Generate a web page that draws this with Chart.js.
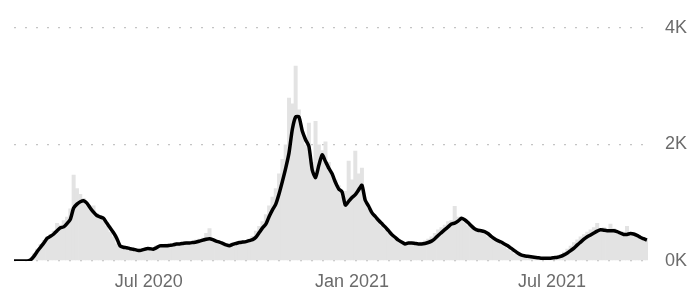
<!DOCTYPE html>
<html><head><meta charset="utf-8">
<script src="https://cdn.jsdelivr.net/npm/chart.js@4"></script>
<style>html,body{margin:0;padding:0;background:#fff}</style>
</head><body>
<canvas id="c" width="695" height="293"></canvas>
<script>
const startDate = '2020-03-01';
const stepDays = 3;
const dailyCases = [
0,0,0,0,10,50,130,210,290,360,
420,460,520,650,620,700,760,900,1480,1250,
1150,1080,950,900,950,820,780,700,600,500,
420,300,250,240,220,210,190,200,210,220,
230,210,240,270,280,290,300,300,310,320,
310,330,340,330,350,370,380,400,480,560,
360,340,310,290,280,300,320,330,340,350,
360,380,430,520,600,680,800,950,1100,1250,
1500,1750,2000,2800,2700,3350,2600,2200,2000,2370,
1700,2400,2000,1900,2050,1700,1500,1400,1300,1100,
1200,1720,1400,1890,1500,1600,1000,900,800,720,
660,600,540,480,420,370,330,300,320,320,
310,300,310,330,350,380,420,480,540,580,
620,680,700,943,760,740,660,610,560,540,
530,500,470,420,380,350,320,290,250,210,
170,130,100,85,78,70,62,55,50,48,
50,55,60,70,90,120,160,210,260,320,
370,420,460,500,540,580,650,560,580,540,
640,560,500,480,500,600,480,450,420,400,
380,360];
const avgCases = [
0,0,0,0,0,20,80,163,236,309,
390,423,463,520,569,585,642,715,910,976,
1016,1033,992,910,837,780,756,732,650,569,
488,390,260,236,228,211,203,187,179,195,
211,211,203,228,260,260,260,268,276,293,
293,301,309,309,317,325,341,358,374,382,
366,341,325,301,276,260,285,301,317,325,
333,350,366,407,488,569,634,764,878,976,
1154,1366,1593,1854,2260,2472,2472,2228,2081,1967,
1561,1431,1642,1821,1707,1593,1496,1350,1236,1187,
959,1024,1089,1138,1220,1300,1041,943,829,764,
699,642,585,520,455,407,358,325,293,309,
309,301,293,293,301,317,341,382,439,488,
537,585,634,650,683,732,707,659,602,553,
528,520,504,472,423,382,350,325,293,260,
220,179,138,106,89,81,73,65,57,49,
49,49,49,57,65,81,106,138,179,220,
276,325,374,415,447,480,512,537,528,520,
520,520,504,480,455,455,472,464,439,407,
382,358];
const tickDates = ['2020-07-01','2021-01-01','2021-07-01'];
const tickLabels = ['Jul 2020','Jan 2021','Jul 2021'];
const yTicks = [0, 2000, 4000];
const yTickLabels = ['0K','2K','4K'];

const DAY = 86400000;
const t0 = Date.parse(startDate + 'T00:00:00Z');
const dayOf = s => Math.round((Date.parse(s + 'T00:00:00Z') - t0) / DAY);
const tickDays = tickDates.map(dayOf);
const lastDay = (dailyCases.length - 1) * stepDays;
const FONT = {family: '"Liberation Sans", Arial, Helvetica, sans-serif', size: 18};

new Chart(document.getElementById('c'), {
  type: 'bar',
  data: {
    datasets: [
      {
        type: 'line',
        data: avgCases.map((v, i) => ({x: i * stepDays, y: v})),
        borderColor: '#000',
        borderWidth: 3.5,
        pointRadius: 0,
        tension: 0.2,
        order: 1
      },
      {
        type: 'bar',
        data: dailyCases.map((v, i) => ({x: i * stepDays, y: v})),
        backgroundColor: '#e3e3e3',
        borderWidth: 0,
        barPercentage: 1.2,
        categoryPercentage: 1,
        order: 2
      }
    ]
  },
  options: {
    responsive: false,
    animation: false,
    devicePixelRatio: 1,
    layout: {padding: {left: 14, top: 15, right: 0, bottom: 0}},
    plugins: {legend: {display: false}, tooltip: {enabled: false}},
    scales: {
      x: {
        type: 'linear',
        min: 0,
        max: lastDay + 1,
        offset: false,
        grid: {display: false, drawTicks: false},
        border: {display: false},
        afterBuildTicks: s => { s.ticks = tickDays.map(v => ({value: v})); },
        afterFit: s => { s.height = 32; },
        ticks: {
          callback: (v, i) => tickLabels[i],
          color: '#6b6b6b',
          font: FONT,
          padding: 10,
          maxRotation: 0,
          autoSkip: false
        }
      },
      y: {
        position: 'right',
        min: 0,
        max: 4000,
        afterBuildTicks: s => { s.ticks = yTicks.map(v => ({value: v})); },
        afterFit: s => { s.width = 47; },
        grid: {color: '#c4c4c4', lineWidth: 1.3, drawTicks: false},
        border: {display: false, dash: [2, 9]},
        ticks: {
          callback: (v, i) => yTickLabels[i],
          color: '#6b6b6b',
          font: FONT,
          padding: 17
        }
      }
    }
  }
});
</script>
</body></html>
